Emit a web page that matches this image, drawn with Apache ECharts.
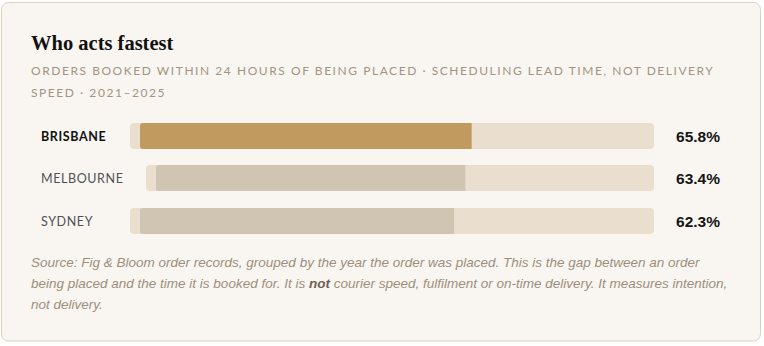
<!DOCTYPE html>
<html>
<head>
<meta charset="utf-8">
<script src="https://cdn.jsdelivr.net/npm/echarts@6/dist/echarts.min.js"></script>
<style>
html,body{margin:0;padding:0;background:#ffffff;}
#chart{width:764px;height:346px;}
</style>
</head>
<body>
<div id="chart"></div>
<script>
// ---- data ----
const cities = ['BRISBANE', 'MELBOURNE', 'SYDNEY'];
const values = [65.8, 63.4, 62.3];
const valueLabels = ['65.8%', '63.4%', '62.3%'];
const titleText = 'Who acts fastest';
const subtitleLines = [
  'ORDERS BOOKED WITHIN 24 HOURS OF BEING PLACED \u00b7 SCHEDULING LEAD TIME, NOT DELIVERY',
  'SPEED \u00b7 2021\u20132025'
];
const noteLines = [
  'Source: Fig & Bloom order records, grouped by the year the order was placed. This is the gap between an order',
  ['being placed and the time it is booked for. It is ', 'not', ' courier speed, fulfilment or on-time delivery. It measures intention,'],
  'not delivery.'
];

// ---- layout ----
const trackLeft = [130, 146, 130];
const trackTop = [123, 165, 208];
const trackRight = 654;
const trackH = 26;
const pad = 10;
const labelX = 41;
const valueRightX = 720;

const grids = [], xAxes = [], yAxes = [], series = [];
cities.forEach((c, i) => {
  const w = trackRight - trackLeft[i];
  const p = pad / (w - 2 * pad) * 100;
  grids.push({ left: trackLeft[i], top: trackTop[i], width: w, height: trackH });
  xAxes.push({ type: 'value', gridIndex: i, min: -p, max: 100 + p, show: false });
  const hi = i === 0;
  yAxes.push({
    type: 'category', gridIndex: i, data: [c], position: 'left',
    axisLine: { show: false }, axisTick: { show: false }, splitLine: { show: false },
    axisLabel: {
      align: 'left', margin: trackLeft[i] - labelX,
      color: hi ? '#111111' : '#4f5157', fontWeight: hi ? 'bold' : 'normal',
      fontSize: 12.5, fontFamily: 'Lato'
    }
  });
  yAxes.push({
    type: 'category', gridIndex: i, data: [valueLabels[i]], position: 'right',
    axisLine: { show: false }, axisTick: { show: false }, splitLine: { show: false },
    axisLabel: {
      align: 'right', margin: valueRightX - trackRight,
      color: '#161616', fontWeight: 'bold', fontSize: 15.5, fontFamily: 'Liberation Sans'
    }
  });
  series.push({
    type: 'bar', xAxisIndex: i, yAxisIndex: 2 * i, data: [values[i]],
    barWidth: '100%', silent: true,
    showBackground: true,
    backgroundStyle: { color: '#eadfcf', borderRadius: 4 },
    itemStyle: { color: hi ? '#c09a5f' : '#d0c4b2', borderRadius: [3, 0, 0, 3] }
  });
});

const noteFont = 'italic 13.5px "Liberation Sans"';
const graphic = [
  { type: 'rect', z: -10, silent: true,
    shape: { x: 1.5, y: 2.5, width: 759, height: 338.5, r: 7 },
    style: { fill: '#f9f6f1', stroke: '#ddd0bf', lineWidth: 1 } },
  { type: 'text', silent: true, x: 31, y: 43,
    style: { text: titleText, font: 'bold 20.5px "Liberation Serif"', fill: '#111111', textVerticalAlign: 'middle' } },
  { type: 'text', silent: true, x: 31, y: 70,
    style: { text: subtitleLines[0], font: '12px Lato', fill: '#a39482', textVerticalAlign: 'middle' } },
  { type: 'text', silent: true, x: 31, y: 92,
    style: { text: subtitleLines[1], font: '12px Lato', fill: '#a39482', textVerticalAlign: 'middle' } },
  { type: 'text', silent: true, x: 31, y: 262,
    style: { text: noteLines[0], font: noteFont, fill: '#9d8e7c', textVerticalAlign: 'middle' } },
  { type: 'text', silent: true, x: 31, y: 283,
    style: {
      text: '{n|' + noteLines[1][0] + '}{b|' + noteLines[1][1] + '}{n|' + noteLines[1][2] + '}',
      textVerticalAlign: 'middle',
      rich: {
        n: { font: noteFont, fill: '#9d8e7c' },
        b: { font: 'italic bold 13.5px "Liberation Sans"', fill: '#6f6152' }
      }
    } },
  { type: 'text', silent: true, x: 31, y: 304,
    style: { text: noteLines[2], font: noteFont, fill: '#9d8e7c', textVerticalAlign: 'middle' } }
];

const chart = echarts.init(document.getElementById('chart'), null, { renderer: 'svg' });
chart.setOption({
  animation: false,
  grid: grids, xAxis: xAxes, yAxis: yAxes, series: series, graphic: graphic
});

function applySpacing() {
  document.querySelectorAll('#chart svg text').forEach(t => {
    const s = t.textContent;
    if (subtitleLines.indexOf(s) >= 0) t.style.letterSpacing = '1.55px';
    else if (cities.indexOf(s) >= 0) t.style.letterSpacing = '0.6px';
  });
}
chart.on('finished', applySpacing);
applySpacing();
setTimeout(applySpacing, 0);
setTimeout(applySpacing, 200);
</script>
</body>
</html>
